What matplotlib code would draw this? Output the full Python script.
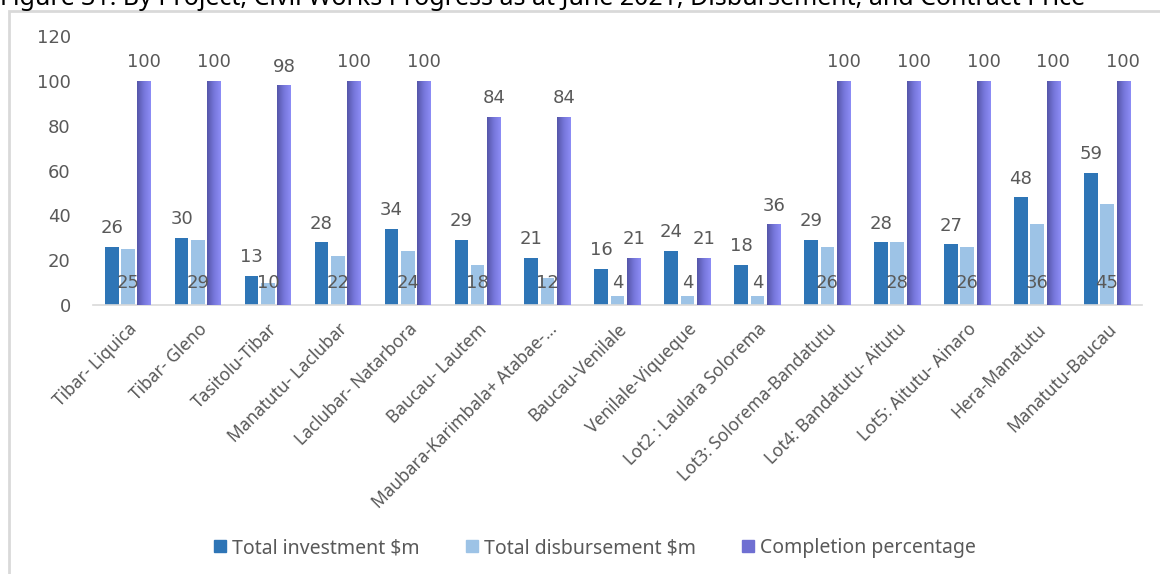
import matplotlib.pyplot as plt
import numpy as np
from matplotlib.colors import LinearSegmentedColormap
from matplotlib.patches import Rectangle, Patch

plt.rcParams['font.family'] = ['Noto Sans', 'DejaVu Sans']

projects = ["Tibar- Liquica", "Tibar- Gleno", "Tasitolu-Tibar", "Manatutu- Laclubar",
            "Laclubar- Natarbora", "Baucau- Lautem", "Maubara-Karimbala+ Atabae-...",
            "Baucau-Venilale", "Venilale-Viqueque", "Lot2 : Laulara Solorema",
            "Lot3: Solorema-Bandatutu", "Lot4: Bandatutu- Aitutu", "Lot5: Aitutu- Ainaro",
            "Hera-Manatutu", "Manatutu-Baucau"]
investment = [26, 30, 13, 28, 34, 29, 21, 16, 24, 18, 29, 28, 27, 48, 59]
disbursement = [25, 29, 10, 22, 24, 18, 12, 4, 4, 4, 26, 28, 26, 36, 45]
completion = [100, 100, 98, 100, 100, 84, 84, 21, 21, 36, 100, 100, 100, 100, 100]

c_inv = '#2E75B6'
c_dis = '#9DC3E6'
grad = LinearSegmentedColormap.from_list('g', ['#5556A8', '#7676DA', '#8D8DF6'])
txt = '#595959'
numfont = 'DejaVu Sans'

fig = plt.figure(figsize=(11.6, 5.74), dpi=100)
ax = fig.add_axes([0.0802, 0.4686, 0.9043, 0.4687])

x = np.arange(len(projects))
w = 0.195
off = 0.233
b1 = ax.bar(x - off, investment, w, color=c_inv, zorder=2)
b2 = ax.bar(x, disbursement, w, color=c_dis, zorder=2)
b3 = ax.bar(x + off, completion, w, color='#7676DA', zorder=2)

# horizontal gradient inside the completion bars
g = np.linspace(0, 1, 64).reshape(1, -1)
for p in b3:
    x0, y0 = p.get_x(), p.get_y()
    im = ax.imshow(g, cmap=grad, aspect='auto', zorder=3,
                   extent=[x0, x0 + p.get_width(), y0, y0 + p.get_height()])
    im.set_clip_path(p)

for i in range(len(projects)):
    ax.annotate(str(investment[i]), (x[i] - off, investment[i]), xytext=(0, 7),
                textcoords='offset points', ha='center', va='bottom', fontsize=13,
                color=txt, family=numfont)
    ax.annotate(str(disbursement[i]), (x[i], 0), xytext=(0, 16),
                textcoords='offset points', ha='center', va='center', fontsize=13,
                color=txt, family=numfont, zorder=4)
    ax.annotate(str(completion[i]), (x[i] + off, completion[i]), xytext=(0, 7),
                textcoords='offset points', ha='center', va='bottom', fontsize=13,
                color=txt, family=numfont)

ax.set_xlim(-0.5, len(projects) - 0.5)
ax.set_ylim(0, 120)
ax.set_yticks(range(0, 121, 20))
ax.set_yticklabels([str(v) for v in range(0, 121, 20)], family=numfont)
ax.set_xticks(x)
ax.set_xticklabels(projects, rotation=45, ha='right', rotation_mode='anchor',
                   fontsize=12.5, color=txt)
ax.tick_params(axis='y', length=0, pad=16, labelsize=13, labelcolor=txt)
ax.tick_params(axis='x', length=0, pad=11)
for s in ['top', 'right', 'left']:
    ax.spines[s].set_visible(False)
ax.spines['bottom'].set_color('#D9D9D9')
ax.spines['bottom'].set_linewidth(1.2)

handles = [Patch(color=c_inv), Patch(color=c_dis), Patch(color='#6F6FD2')]
labels = ['Total investment $m', 'Total disbursement $m', 'Completion percentage']
fig.legend(handles, labels, loc='center', bbox_to_anchor=(0.513, 0.045), ncol=3,
           frameon=False, fontsize=14, labelcolor=txt, handlelength=0.6, handleheight=0.6,
           handletextpad=0.3, columnspacing=2.4)

# chart border and cropped caption
fig.patches.append(Rectangle((9 / 1160, -0.1), 1.2, 1 - 11 / 574 + 0.1,
                             transform=fig.transFigure, fill=False,
                             edgecolor='#D9D9D9', linewidth=2))
fig.text(0.0, 1 - 5 / 574, 'Figure 31: By Project, Civil Works Progress as at June 2021, '
         'Disbursement, and Contract Price', fontsize=18, fontweight='bold',
         ha='left', va='baseline', color='black')

fig.savefig('out.png', dpi=100)
